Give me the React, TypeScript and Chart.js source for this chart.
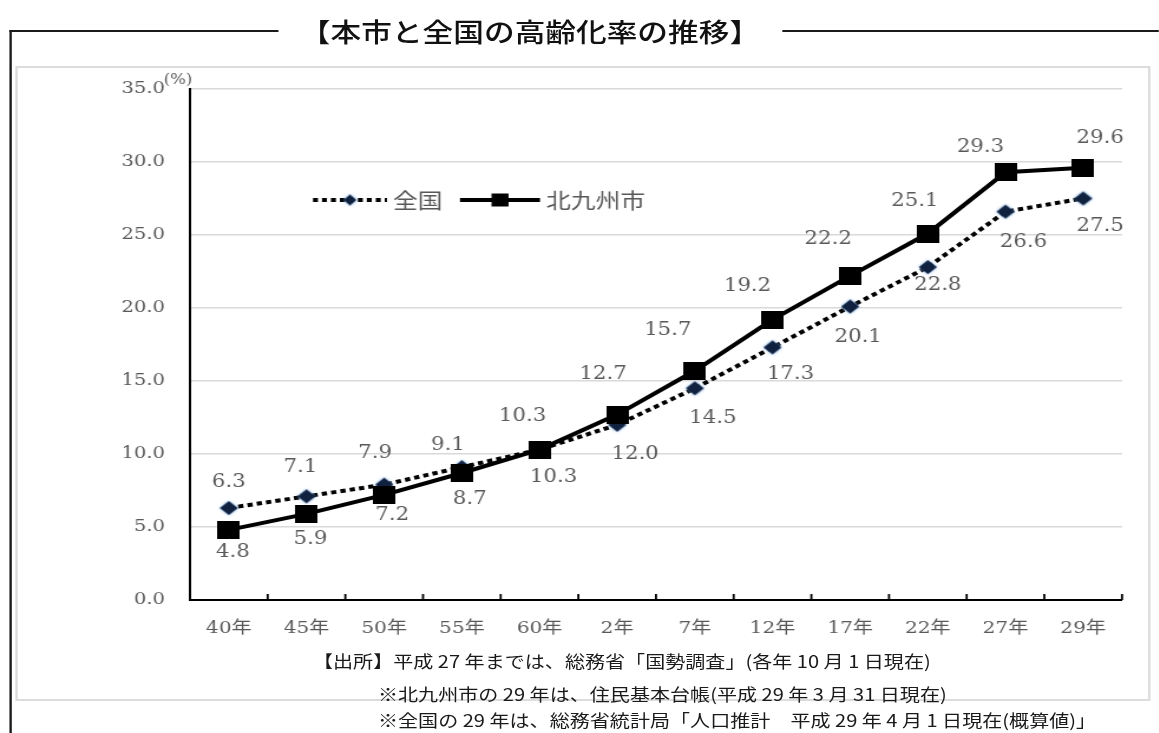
import React, { useEffect, useRef } from "react";
import { Chart, registerables } from "chart.js";

Chart.register(...registerables);

// The whole figure is laid out on a narrower sheet and widened by STRETCH,
// so glyphs, markers and lines all share the same wide proportions.
const STRETCH = 1.18;
const PAGE_W = 1159;
const PAGE_H = 733;
const INNER_W = Math.round(PAGE_W / STRETCH);
const sx = (x: number) => x / STRETCH;

const TITLE = "【本市と全国の高齢化率の推移】";
const UNIT_LABEL = "(%)";
const SERIES_LABELS = ["全国", "北九州市"];
const CATEGORIES = ["40年", "45年", "50年", "55年", "60年", "2年", "7年", "12年", "17年", "22年", "27年", "29年"];
const NATIONAL = [6.3, 7.1, 7.9, 9.1, 10.3, 12.0, 14.5, 17.3, 20.1, 22.8, 26.6, 27.5];
const KITAKYUSHU = [4.8, 5.9, 7.2, 8.7, 10.3, 12.7, 15.7, 19.2, 22.2, 25.1, 29.3, 29.6];
const Y_TICKS = [0, 5, 10, 15, 20, 25, 30, 35];
const NOTES = [
  "【出所】平成 27 年までは、総務省「国勢調査」(各年 10 月 1 日現在)",
  "※北九州市の 29 年は、住民基本台帳(平成 29 年 3 月 31 日現在)",
  "※全国の 29 年は、総務省統計局「人口推計　平成 29 年 4 月 1 日現在(概算値)」",
];

// Where each value label sits relative to its marker, [dx, dy] in page pixels
const NATIONAL_LABEL_OFFSETS = [
  [0, -26], [-6, -29], [-9, -31], [-14, -22], [-17, -33], [18, 30],
  [18, 30], [18, 27], [8, 31], [10, 18], [18, 31], [17, 28],
];
const KITAKYUSHU_LABEL_OFFSETS = [
  [4, 22], [4, 25], [8, 20], [8, 26], [14, 28], [-14, -40],
  [-27, -40], [-25, -33], [-22, -37], [-13, -32], [-25, -25], [17, -30],
];

const TEXT_GRAY = "#595959";
const SERIF = "'DejaVu Serif', 'Noto Sans CJK JP', serif";
const CJK = "'Noto Sans CJK JP', 'Noto Sans', sans-serif";

function makeSquare(w: number, h: number) {
  const c = document.createElement("canvas");
  c.width = Math.round(w);
  c.height = Math.round(h);
  const g = c.getContext("2d")!;
  g.fillStyle = "#000";
  g.fillRect(0, 0, c.width, c.height);
  return c;
}

function makeDiamond(w: number, h: number) {
  const pad = 3;
  const c = document.createElement("canvas");
  c.width = Math.round(w + pad * 2);
  c.height = Math.round(h + pad * 2);
  const g = c.getContext("2d")!;
  const cx = c.width / 2;
  const cy = c.height / 2;
  g.shadowColor = "rgba(120,175,235,0.95)";
  g.shadowBlur = 3;
  g.fillStyle = "#0f213f";
  g.beginPath();
  g.moveTo(cx, cy - h / 2);
  g.lineTo(cx + w / 2, cy);
  g.lineTo(cx, cy + h / 2);
  g.lineTo(cx - w / 2, cy);
  g.closePath();
  g.fill();
  return c;
}

export default function App() {
  const canvasRef = useRef<HTMLCanvasElement | null>(null);

  useEffect(() => {
    const canvas = canvasRef.current;
    if (!canvas) return;

    const squarePoint = makeSquare(sx(22), 18);
    const diamondPoint = makeDiamond(sx(18), 14);
    const diamondLegend = makeDiamond(sx(13), 11);

    const seriesValues = [NATIONAL, KITAKYUSHU];
    const seriesOffsets = [NATIONAL_LABEL_OFFSETS, KITAKYUSHU_LABEL_OFFSETS];

    const annotate = {
      id: "annotate",
      afterDatasetsDraw(chart: any) {
        const { ctx, chartArea, scales } = chart;
        const xs = scales.x;
        ctx.save();

        // short inward tick marks on the category boundaries
        ctx.strokeStyle = "#000";
        ctx.lineWidth = 1.8;
        for (let i = 1; i <= CATEGORIES.length; i++) {
          const px = xs.getPixelForValue(i - 0.5);
          ctx.beginPath();
          ctx.moveTo(px, chartArea.bottom);
          ctx.lineTo(px, chartArea.bottom - 6);
          ctx.stroke();
        }

        // value labels
        ctx.font = `18px ${SERIF}`;
        ctx.fillStyle = TEXT_GRAY;
        ctx.textAlign = "center";
        ctx.textBaseline = "middle";
        seriesValues.forEach((values, di) => {
          const meta = chart.getDatasetMeta(di);
          meta.data.forEach((pt: any, i: number) => {
            const [dx, dy] = seriesOffsets[di][i];
            ctx.fillText(values[i].toFixed(1), pt.x + sx(dx), pt.y + dy);
          });
        });

        // unit label at the top of the value axis
        ctx.font = `14px ${SERIF}`;
        ctx.fillText(UNIT_LABEL, sx(178), 80);

        // legend
        const ly = 200;
        ctx.strokeStyle = "#000";
        ctx.lineWidth = 4;
        ctx.setLineDash([4.2, 3.4]);
        ctx.beginPath();
        ctx.moveTo(sx(313), ly);
        ctx.lineTo(sx(387), ly);
        ctx.stroke();
        ctx.setLineDash([]);
        ctx.drawImage(diamondLegend, sx(350) - diamondLegend.width / 2, ly - diamondLegend.height / 2);

        ctx.beginPath();
        ctx.moveTo(sx(460), ly);
        ctx.lineTo(sx(540), ly);
        ctx.stroke();
        ctx.fillStyle = "#000";
        ctx.fillRect(sx(500) - sx(17) / 2, ly - 6.5, sx(17), 13);

        ctx.font = `21px ${CJK}`;
        ctx.fillStyle = TEXT_GRAY;
        ctx.textAlign = "left";
        ctx.fillText(SERIES_LABELS[0], sx(393), ly);
        ctx.fillText(SERIES_LABELS[1], sx(546), ly);

        ctx.restore();
      },
    };

    const chart = new Chart(canvas, {
      type: "line",
      data: {
        labels: CATEGORIES,
        datasets: [
          {
            label: SERIES_LABELS[0],
            data: NATIONAL,
            borderColor: "#000",
            borderWidth: 4,
            borderDash: [4.5, 3.5],
            tension: 0,
            pointStyle: diamondPoint as any,
            pointRadius: 8,
            pointHoverRadius: 8,
            order: 1,
          },
          {
            label: SERIES_LABELS[1],
            data: KITAKYUSHU,
            borderColor: "#000",
            borderWidth: 4,
            tension: 0,
            pointStyle: squarePoint as any,
            pointRadius: 9,
            pointHoverRadius: 9,
            order: 0,
          },
        ],
      },
      options: {
        responsive: false,
        animation: false,
        devicePixelRatio: 1,
        events: [],
        layout: { padding: { left: 0, right: INNER_W - sx(1122), top: 89, bottom: 0 } },
        plugins: {
          legend: { display: false },
          tooltip: { enabled: false },
        },
        scales: {
          x: {
            type: "category",
            offset: true,
            grid: { display: true, drawOnChartArea: false, drawTicks: false, offset: true },
            border: { display: true, color: "#000", width: 2 },
            ticks: {
              color: TEXT_GRAY,
              font: { family: SERIF, size: 17 },
              padding: 18,
              maxRotation: 0,
              autoSkip: false,
            },
            afterFit: (s: any) => {
              s.height = PAGE_H - 600;
            },
          },
          y: {
            min: 0,
            max: 35,
            afterBuildTicks: (s: any) => {
              s.ticks = Y_TICKS.map((v) => ({ value: v }));
            },
            grid: { color: "#d9d9d9", lineWidth: 1.5, drawTicks: false },
            border: { display: true, color: "#000", width: 2 },
            ticks: {
              color: TEXT_GRAY,
              font: { family: SERIF, size: 16.5 },
              padding: sx(25),
              callback: (v: any) => Number(v).toFixed(1),
            },
            afterFit: (s: any) => {
              s.width = sx(190);
            },
          },
        },
      },
      plugins: [annotate],
    });

    return () => chart.destroy();
  }, []);

  const frameColor = "#1a1a1a";

  return (
    <div
      style={{
        position: "fixed",
        left: 0,
        top: 0,
        width: PAGE_W,
        height: PAGE_H,
        background: "#fff",
        overflow: "hidden",
      }}
    >
      <div
        style={{
          position: "absolute",
          left: 0,
          top: 0,
          width: INNER_W,
          height: PAGE_H,
          transform: `scaleX(${STRETCH})`,
          transformOrigin: "0 0",
        }}
      >
        {/* outer frame */}
        <div style={{ position: "absolute", left: sx(10), top: 30, width: sx(279) - sx(10), height: 2, background: frameColor }} />
        <div style={{ position: "absolute", left: sx(782), top: 30, width: INNER_W - sx(782), height: 2, background: frameColor }} />
        <div style={{ position: "absolute", left: sx(10), top: 30, width: sx(2), height: PAGE_H - 30, background: frameColor }} />

        {/* chart panel border */}
        <div
          style={{
            position: "absolute",
            left: sx(15),
            top: 66,
            width: sx(1150) - sx(15),
            height: 701 - 66,
            boxSizing: "border-box",
            border: "2px solid #dcdcdc",
          }}
        />

        <canvas
          ref={canvasRef}
          width={INNER_W}
          height={PAGE_H}
          style={{ position: "absolute", left: 0, top: 0, width: INNER_W, height: PAGE_H }}
        />

        <div
          style={{
            position: "absolute",
            left: sx(530) - 300,
            width: 600,
            top: 31 - 18,
            lineHeight: "36px",
            textAlign: "center",
            fontFamily: CJK,
            fontSize: 26,
            fontWeight: 500,
            color: "#111",
            whiteSpace: "nowrap",
          }}
        >
          {TITLE}
        </div>

        {NOTES.map((line, i) => (
          <div
            key={i}
            style={{
              position: "absolute",
              left: i === 0 ? sx(313) : sx(378),
              top: [661, 694, 720][i] - 12,
              lineHeight: "24px",
              fontFamily: CJK,
              fontSize: 17,
              color: "#1a1a1a",
              whiteSpace: "nowrap",
            }}
          >
            {line}
          </div>
        ))}
      </div>
    </div>
  );
}
